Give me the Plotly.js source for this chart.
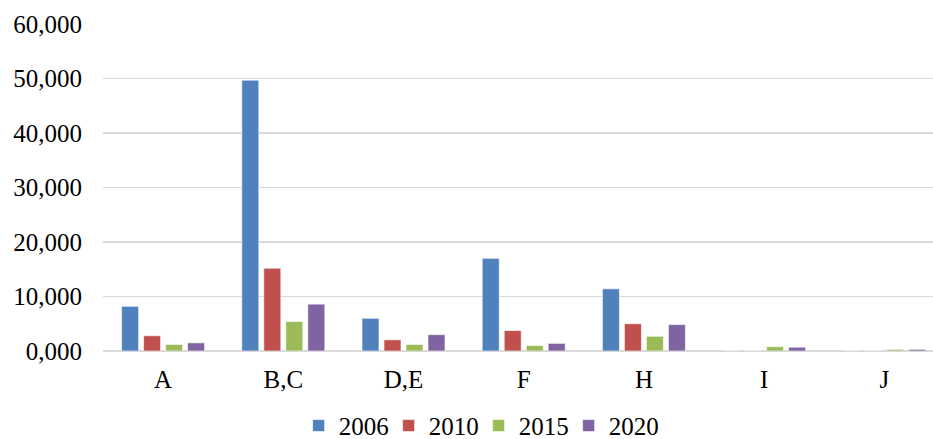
<!DOCTYPE html>
<html>
<head>
<meta charset="utf-8">
<script src="https://cdn.plot.ly/plotly-3.0.1.min.js"></script>
<style>html,body{margin:0;padding:0;background:#fff;}#chart{width:933px;height:439px;}</style>
</head>
<body>
<div id="chart"></div>
<script>
const categories = ["A", "B,C", "D,E", "F", "H", "I", "J"];
const seriesNames = ["2006", "2010", "2015", "2020"];
const values2006 = [8200, 49700, 6000, 17000, 11400, 0, 0];
const values2010 = [2800, 15200, 2050, 3750, 5000, 0, 0];
const values2015 = [1200, 5400, 1200, 1000, 2700, 800, 300];
const values2020 = [1500, 8600, 3000, 1400, 4850, 700, 300];
const yTickVals = [0, 10000, 20000, 30000, 40000, 50000, 60000];
const yTickText = ["0,000", "10,000", "20,000", "30,000", "40,000", "50,000", "60,000"];

const colors = ["#4F81BD", "#C0504D", "#9BBB59", "#8064A2"];
const allValues = [values2006, values2010, values2015, values2020];

const traces = seriesNames.map((name, i) => ({
  type: "bar",
  name: name,
  x: categories,
  y: allValues[i],
  marker: { color: colors[i], line: { color: "rgba(255,255,255,0.6)", width: 1 } },
  hoverinfo: "x+y+name"
}));

const font = { family: "Liberation Serif, Times New Roman, serif", size: 25, color: "#000" };

const layout = {
  width: 933,
  height: 439,
  margin: { l: 103, r: 0, t: 24, b: 88, pad: 0 },
  paper_bgcolor: "#fff",
  plot_bgcolor: "#fff",
  font: font,
  barmode: "group",
  bargap: 0.268,
  bargroupgap: 0.227,
  showlegend: true,
  legend: {
    orientation: "h",
    xref: "container",
    yref: "container",
    x: 0.513,
    xanchor: "center",
    y: 0.03,
    yanchor: "middle",
    font: { family: font.family, size: 25, color: "#000" },
    itemwidth: 30,
    entrywidth: 45,
    entrywidthmode: "pixels",
    tracegroupgap: 0
  },
  xaxis: {
    type: "category",
    range: [-0.5, 6.405],
    showgrid: false,
    zeroline: false,
    showline: false,
    ticks: "",
    ticklabelstandoff: 11,
    tickfont: font
  },
  yaxis: {
    range: [0, 60000],
    tickvals: yTickVals,
    ticktext: yTickText,
    showgrid: true,
    gridcolor: "#D9D9D9",
    gridwidth: 1.5,
    zeroline: true,
    zerolinecolor: "#D9D9D9",
    zerolinewidth: 1.5,
    showline: false,
    ticks: "",
    ticklabelstandoff: 20,
    tickfont: font
  }
};

Plotly.newPlot("chart", traces, layout, { displayModeBar: false, staticPlot: true });
</script>
</body>
</html>
